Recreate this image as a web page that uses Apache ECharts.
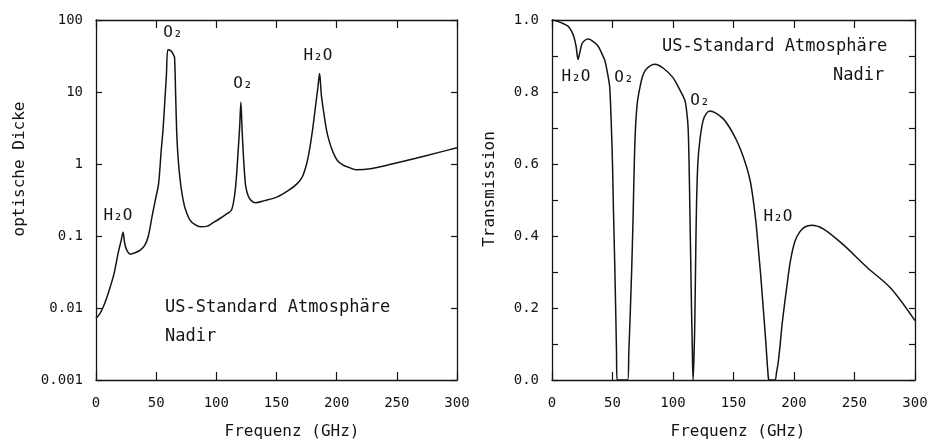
<!DOCTYPE html>
<html>
<head>
<meta charset="utf-8">
<script src="https://cdn.jsdelivr.net/npm/echarts@6/dist/echarts.min.js"></script>
<style>
  html, body { margin: 0; padding: 0; background: #fff; }
  #chart { width: 927px; height: 441px; }
</style>
</head>
<body>
<div id="chart"></div>
<script>
// Optical depth of the US standard atmosphere, nadir view (log scale)
const freqOpt = [0, 3, 6, 9, 12, 15, 17.2, 19, 20.8, 22.5, 23.8, 25.5, 28.5, 32, 36.5, 40.5, 43.5, 46.4, 49.2, 52,
  54.2, 55.7, 57.2, 58.5, 59.7, 61.5, 63.1, 64.5, 65.3, 66.2, 67, 67.8, 69, 70.5, 72.5, 74.5, 78, 82, 87, 92,
  97, 103, 108, 112.5, 115, 116.5, 118, 119.4, 120.4, 121.4, 122.4, 123.4, 124.5, 126.5, 129, 132.5, 140, 150.6, 160, 167,
  171.4, 175, 177.5, 180, 182.5, 184.5, 185.8, 187.3, 189.4, 191.5, 193.6, 197, 200.6, 205, 209, 217, 228, 245,
  265, 285, 300];
const opticalDepth = [0.0072, 0.0082, 0.0103, 0.014, 0.02, 0.03, 0.046, 0.064, 0.085, 0.113, 0.08, 0.064, 0.056, 0.058, 0.063, 0.074, 0.1, 0.18, 0.31, 0.53,
  1.55, 3, 7.5, 17, 38.5, 38, 36, 32.5, 30, 9, 3, 1.55, 0.85, 0.5, 0.31, 0.23, 0.168, 0.145, 0.134, 0.136,
  0.152, 0.175, 0.2, 0.228, 0.35, 0.6, 1.4, 3.3, 7.2, 3.0, 1.4, 0.75, 0.48, 0.36, 0.31, 0.29, 0.31, 0.35, 0.43, 0.53,
  0.66, 1.0, 1.6, 3.0, 6.5, 12, 18, 9, 5.0, 3.0, 2.13, 1.45, 1.12, 0.97, 0.91, 0.83, 0.86, 0.99,
  1.19, 1.45, 1.68];

// Transmission of the same atmosphere
const freqTrans = [0, 2.2, 8, 13.2, 16, 18.2, 20, 21.5, 23, 24.8, 27, 29.8, 33, 38, 41, 43.6, 46, 47.7, 49.1, 50, 50.8, 51.8, 52.6, 53.3, 53.8,
  62.5, 63.5, 64.5, 65.8, 67, 68, 69, 70.5, 72.5, 75, 78, 85, 92, 100, 105, 109.8, 111.5, 112.5, 113.3, 113.9, 114.6, 115.3, 116, 116.6,
  117.3, 118, 118.7, 119.4, 120.5, 122.2, 124.9, 127.5, 130.4, 135, 141.4, 147, 152.5, 157, 160.8, 164, 166.3, 168.5, 170.4, 172.5, 174.5, 176.6, 178.7, 179.5,
  184.2, 185.5, 187, 188.3, 190.5, 193.9, 197, 200.7, 204.9, 209, 214.6, 224.2, 240, 260, 280, 300];
const transmission = [1.0, 0.999, 0.992, 0.983, 0.97, 0.952, 0.925, 0.89, 0.91, 0.934, 0.943, 0.947, 0.943, 0.928, 0.908, 0.888, 0.85, 0.813, 0.7, 0.6, 0.47, 0.33, 0.2, 0.08, 0.0,
  0.0, 0.08, 0.17, 0.3, 0.45, 0.6, 0.7, 0.77, 0.81, 0.845, 0.864, 0.877, 0.866, 0.84, 0.81, 0.777, 0.74, 0.7, 0.6, 0.48, 0.34, 0.2, 0.08, 0.0,
  0.06, 0.157, 0.33, 0.48, 0.6, 0.666, 0.721, 0.74, 0.747, 0.742, 0.726, 0.7, 0.666, 0.63, 0.592, 0.55, 0.5, 0.44, 0.37, 0.29, 0.203, 0.11, 0.01, 0.0,
  0.0, 0.02, 0.05, 0.09, 0.165, 0.255, 0.33, 0.385, 0.412, 0.425, 0.43, 0.42, 0.378, 0.314, 0.255, 0.165];

// Tick labels for the two vertical scales
const depthTickLabels = ['0.001', '0.01', '0.1', '1', '10', '100'];
const transTickLabels = ['0.0', '0.2', '0.4', '0.6', '0.8', '1.0'];

const INK = '#141414';
const MONO = '"DejaVu Sans Mono", "Liberation Mono", monospace';

const pairs = (xs, ys) => xs.map((x, i) => [x, ys[i]]);

// every axis is drawn on its own edge of the box, never moved to the zero line
const frameLine = () => ({ show: true, onZero: false, lineStyle: { color: INK, width: 1.3 } });

function freqAxis(grid, pos, labels) {
  return {
    gridIndex: grid, type: 'value', position: pos, min: 0, max: 300, interval: 50,
    axisLine: frameLine(),
    axisTick: { show: true, inside: true, length: 8, lineStyle: { color: INK, width: 1.2 } },
    axisLabel: { show: labels, margin: 16, color: INK, fontFamily: MONO, fontSize: 14 },
    splitLine: { show: false }
  };
}

function depthAxis(pos, labels) {
  return {
    gridIndex: 0, type: 'log', logBase: 10, position: pos, min: 0.001, max: 100,
    axisLine: frameLine(),
    axisTick: { show: true, inside: true, length: 6, lineStyle: { color: INK, width: 1.2 } },
    axisLabel: {
      show: labels, margin: 13, color: INK, fontFamily: MONO, fontSize: 14,
      formatter: v => {
        const k = Math.round(Math.log10(v)) + 3;
        return depthTickLabels[k] !== undefined ? depthTickLabels[k] : '';
      }
    },
    splitLine: { show: false }
  };
}

function transAxis(pos, labels) {
  return {
    gridIndex: 1, type: 'value', position: pos, min: 0, max: 1, interval: 0.1,
    axisLine: frameLine(),
    axisTick: { show: true, inside: true, length: 6, lineStyle: { color: INK, width: 1.2 } },
    axisLabel: {
      show: labels, margin: 13, color: INK, fontFamily: MONO, fontSize: 14,
      formatter: v => {
        const k = Math.round(v * 10);
        return k % 2 === 0 ? transTickLabels[k / 2] : '';
      }
    },
    splitLine: { show: false }
  };
}

function note(text, x, y, align, size) {
  return {
    type: 'text', x: x, y: y, silent: true,
    style: { text: text, fill: INK, font: (size || 16) + 'px ' + MONO, align: align || 'center', verticalAlign: 'middle' }
  };
}

function rotatedTitle(text, x, y) {
  return {
    type: 'text', x: x, y: y, rotation: Math.PI / 2, silent: true,
    style: { text: text, fill: INK, font: '16px ' + MONO, align: 'center', verticalAlign: 'middle' }
  };
}

const chart = echarts.init(document.getElementById('chart'), null, { renderer: 'canvas' });
chart.setOption({
  backgroundColor: '#fff',
  animation: false,
  grid: [
    { left: 96, top: 20, width: 361, height: 360, outerBoundsMode: 'none' },
    { left: 552, top: 20, width: 363, height: 360, outerBoundsMode: 'none' }
  ],
  xAxis: [
    freqAxis(0, 'bottom', true),
    freqAxis(0, 'top', false),
    freqAxis(1, 'bottom', true),
    freqAxis(1, 'top', false)
  ],
  yAxis: [
    depthAxis('left', true),
    depthAxis('right', false),
    transAxis('left', true),
    transAxis('right', false)
  ],
  series: [
    {
      type: 'line', xAxisIndex: 0, yAxisIndex: 0, data: pairs(freqOpt, opticalDepth),
      showSymbol: false, smooth: 0.3, clip: true, lineStyle: { color: INK, width: 1.5 }
    },
    {
      type: 'line', xAxisIndex: 2, yAxisIndex: 2, data: pairs(freqTrans, transmission),
      showSymbol: false, smooth: 0.3, clip: true, lineStyle: { color: INK, width: 1.5 }
    }
  ],
  graphic: [
    // left panel annotations
    note('O₂', 173, 33),
    note('O₂', 243, 84),
    note('H₂O', 318, 56),
    note('H₂O', 118, 216),
    note('US-Standard Atmosphäre', 165, 308, 'left', 17),
    note('Nadir', 165, 337, 'left', 17),
    // right panel annotations
    note('H₂O', 576, 77),
    note('O₂', 624, 78),
    note('O₂', 700, 101),
    note('H₂O', 778, 217),
    note('US-Standard Atmosphäre', 662, 47, 'left', 17),
    note('Nadir', 833, 76, 'left', 17),
    // axis titles
    note('Frequenz (GHz)', 292, 432),
    note('Frequenz (GHz)', 738, 432),
    rotatedTitle('optische Dicke', 20, 169),
    rotatedTitle('Transmission', 490, 189)
  ]
});
</script>
</body>
</html>
